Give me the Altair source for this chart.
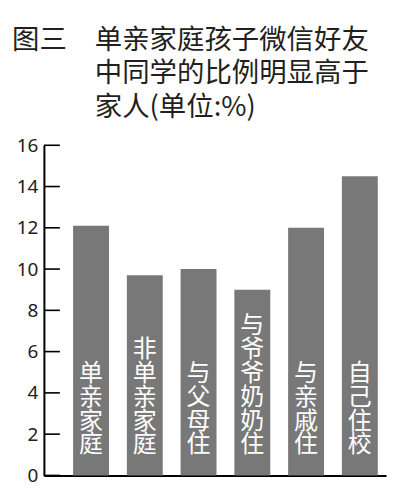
import altair as alt
import pandas as pd

categories = ["单亲家庭", "非单亲家庭", "与父母住", "与爷爷奶奶住", "与亲戚住", "自己住校"]
values = [12.1, 9.7, 10.0, 9.0, 12.0, 14.5]
y_ticks = [0, 2, 4, 6, 8, 10, 12, 14, 16]
title_lines = ["单亲家庭孩子微信好友", "中同学的比例明显高于", "家人(单位:%)"]
figure_label = "图三"

df = pd.DataFrame({
    "cat": categories,
    "value": values,
    "label": ["\n".join(c) for c in categories],
    "n": [len(c) for c in categories],
})
ticks_df = pd.DataFrame({"t": y_ticks})
title_df = pd.DataFrame({"t": ["\n".join(title_lines)]})
fig_df = pd.DataFrame({"t": [figure_label]})

CJK = "Noto Sans CJK SC"
yscale = alt.Scale(domain=[0, 16], nice=False)

xenc = alt.X(
    "cat:N", sort=categories,
    scale=alt.Scale(paddingInner=0.332, paddingOuter=0.348, align=0.78),
    axis=alt.Axis(title=None, labels=False, ticks=False, domainColor="black", domainWidth=2),
)
yenc = alt.Y(
    "value:Q", scale=yscale,
    axis=alt.Axis(title=None, values=y_ticks, ticks=False, grid=False,
                  labelFont="Noto Sans", labelFontSize=19, labelColor="#222222",
                  labelPadding=6, domainColor="black", domainWidth=2),
)

bars = alt.Chart(df).mark_bar(color="#787878").encode(x=xenc, y=yenc)

tick_rules = alt.Chart(ticks_df).mark_rule(color="black", strokeWidth=1.6).encode(
    y=alt.Y("t:Q", scale=yscale),
    x=alt.value(0),
    x2=alt.value(16),
)

# vertical labels: shift each block up by (lines - 1) * lineHeight so that
# the last character sits at the same height in every bar
labels = alt.Chart(df).mark_text(
    lineBreak="\n", baseline="bottom", align="center", dy=-18,
    color="white", fontSize=24, lineHeight=24, font=CJK,
).encode(
    x=alt.X("cat:N", sort=categories),
    y=alt.datum(0),
    yOffset=alt.YOffset("n:Q", scale=alt.Scale(domain=[1, 2], range=[0, -24], zero=False)),
    text="label:N",
)

title_text = alt.Chart(title_df).mark_text(
    lineBreak="\n", baseline="top", align="left", fontSize=27.5, lineHeight=34,
    font=CJK, color="#231f20",
).encode(x=alt.value(51), y=alt.value(-119), text="t:N")

fig_text = alt.Chart(fig_df).mark_text(
    baseline="top", align="left", fontSize=27.5, font=CJK, color="#231f20",
).encode(x=alt.value(-32), y=alt.value(-119), text="t:N")

chart = alt.layer(bars, tick_rules, labels, title_text, fig_text).properties(
    width=343, height=331,
    autosize=alt.AutoSizeParams(type="none"),
    padding={"left": 36, "top": 137, "right": 6, "bottom": 14},
).configure_view(stroke=None)

chart.save("out.html", embed_options={"renderer": "svg", "actions": False})
